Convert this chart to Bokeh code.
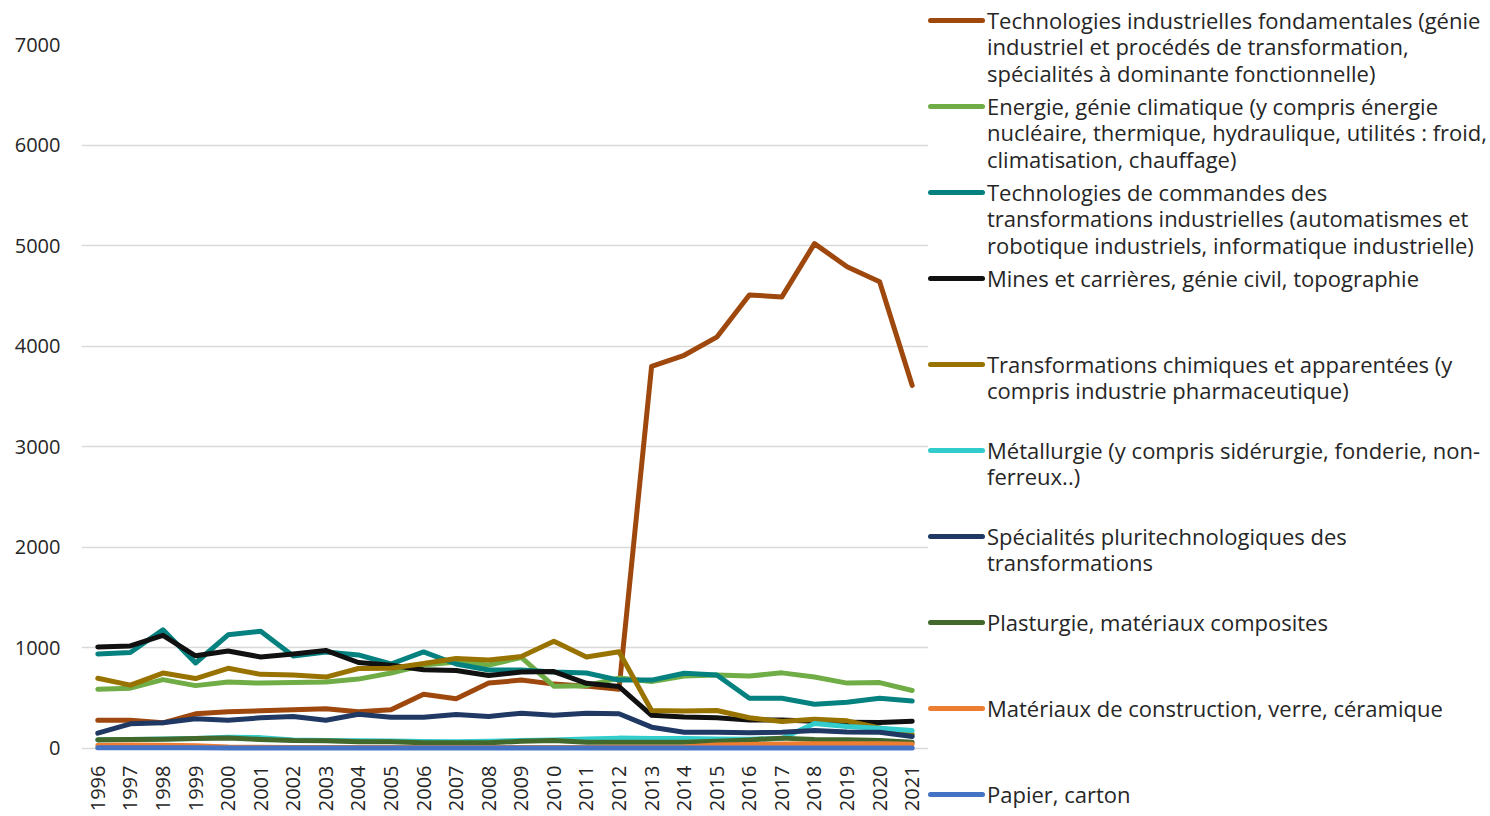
from math import pi
from bokeh.plotting import figure
from bokeh.layouts import row
from bokeh.models import Range1d, FixedTicker, FactorRange, Div
from bokeh.embed import file_html
from bokeh.resources import INLINE

years = [str(y) for y in range(1996, 2022)]

fondamentales = [280, 280, 255, 345, 365, 375, 385, 395, 365, 385, 540, 495, 650, 680, 640, 620, 590,
                 3800, 3910, 4090, 4510, 4490, 5020, 4790, 4640, 3610]
energie = [590, 600, 685, 625, 660, 650, 655, 660, 690, 750, 830, 860, 830, 905, 620, 625, 700,
           665, 720, 730, 720, 752, 710, 650, 655, 577]
commandes = [940, 955, 1180, 850, 1130, 1165, 920, 960, 930, 840, 960, 840, 780, 780, 760, 750, 680,
             680, 748, 730, 500, 500, 440, 460, 500, 472]
mines = [1010, 1020, 1125, 922, 970, 910, 940, 975, 855, 828, 783, 776, 726, 760, 765, 648, 616,
         330, 312, 305, 282, 282, 270, 262, 258, 272]
chimie = [698, 630, 750, 695, 797, 737, 730, 710, 795, 797, 845, 895, 880, 915, 1067, 910, 962,
          378, 372, 378, 305, 268, 290, 275, 205, 140]
metallurgie = [85, 90, 95, 100, 112, 108, 85, 80, 78, 75, 70, 68, 72, 80, 85, 95, 103,
               100, 100, 95, 92, 100, 248, 218, 200, 178]
pluritechno = [152, 245, 255, 295, 280, 305, 318, 280, 340, 311, 311, 338, 318, 351, 330, 351, 345,
               212, 162, 162, 157, 162, 180, 165, 162, 120]
plasturgie = [88, 90, 92, 100, 105, 90, 80, 78, 68, 66, 58, 56, 56, 72, 80, 62, 62,
              62, 62, 72, 85, 103, 90, 88, 80, 62]
materiaux = [32, 35, 33, 28, 15, 12, 10, 10, 10, 10, 10, 10, 10, 10, 10, 10, 12,
             12, 15, 35, 40, 45, 47, 47, 46, 42]
papier = [8, 8, 8, 8, 6, 6, 6, 6, 6, 6, 6, 6, 6, 6, 6, 6, 6,
          6, 6, 6, 6, 6, 6, 6, 6, 6]

labels = [
    "Technologies industrielles fondamentales (génie\nindustriel et procédés de transformation,\nspécialités à dominante fonctionnelle)",
    "Energie, génie climatique (y compris énergie\nnucléaire, thermique, hydraulique, utilités : froid,\nclimatisation, chauffage)",
    "Technologies de commandes des\ntransformations industrielles (automatismes et\nrobotique industriels, informatique industrielle)",
    "Mines et carrières, génie civil, topographie",
    "Transformations chimiques et apparentées (y\ncompris industrie pharmaceutique)",
    "Métallurgie (y compris sidérurgie, fonderie, non-\nferreux..)",
    "Spécialités pluritechnologiques des\ntransformations",
    "Plasturgie, matériaux composites",
    "Matériaux de construction, verre, céramique",
    "Papier, carton",
]
series = [fondamentales, energie, commandes, mines, chimie, metallurgie, pluritechno,
          plasturgie, materiaux, papier]
colors = ["#9E480E", "#70AD47", "#05827F", "#111111", "#997300", "#33CCCC", "#203864",
          "#43682B", "#ED7D31", "#4472C4"]

FONT = "Open Sans"
TXT = "#262626"

# ---- main chart ----
p = figure(width=928, height=816, x_range=FactorRange(*years, range_padding=0),
           y_range=Range1d(-30, 7000), output_backend="svg", toolbar_location=None,
           min_border_left=81, min_border_right=0, min_border_top=44, min_border_bottom=65)
p.outline_line_color = None
p.background_fill_color = "white"
p.border_fill_color = "white"

p.yaxis.ticker = FixedTicker(ticks=[0, 1000, 2000, 3000, 4000, 5000, 6000, 7000])
p.yaxis.axis_line_color = None
p.yaxis.major_tick_line_color = None
p.yaxis.minor_tick_line_color = None
p.yaxis.major_label_standoff = 15
p.yaxis.major_label_text_font = FONT
p.yaxis.major_label_text_font_size = "20px"
p.yaxis.major_label_text_color = TXT

p.xaxis.axis_line_color = None
p.xaxis.major_tick_line_color = None
p.xaxis.major_label_orientation = pi / 2
p.xaxis.major_label_standoff = 8
p.xaxis.major_label_text_font = FONT
p.xaxis.major_label_text_font_size = "20px"
p.xaxis.major_label_text_color = TXT

p.xgrid.grid_line_color = None
p.ygrid.grid_line_color = "#D9D9D9"
p.ygrid.grid_line_width = 1.5

for vals, col in zip(series, colors):
    p.line(years, vals, line_color=col, line_width=5, line_join="round", line_cap="round")

# ---- legend panel (HTML) ----
pitch = 86.0
first_top = 7.0
parts = []
for i, (lab, col) in enumerate(zip(labels, colors)):
    top = first_top + i * pitch
    parts.append(
        f'<div style="position:absolute;left:0px;top:{top:.1f}px;width:562px;">'
        f'<span style="position:absolute;left:0px;top:10.7px;width:57px;height:5px;'
        f'border-radius:2.5px;background:{col};"></span>'
        f'<span style="position:absolute;left:59px;top:0px;white-space:pre-line;'
        f"font-family:'{FONT}';font-size:22px;line-height:26.4px;color:{TXT};\">{lab}</span></div>"
    )
html = ('<div style="position:relative;width:562px;height:816px;background:white;">'
        + "".join(parts) + "</div>")
legend_div = Div(text=html, width=562, height=816, margin=(0, 0, 0, 0))

open("out.html", "w").write(file_html(row(p, legend_div), INLINE))
